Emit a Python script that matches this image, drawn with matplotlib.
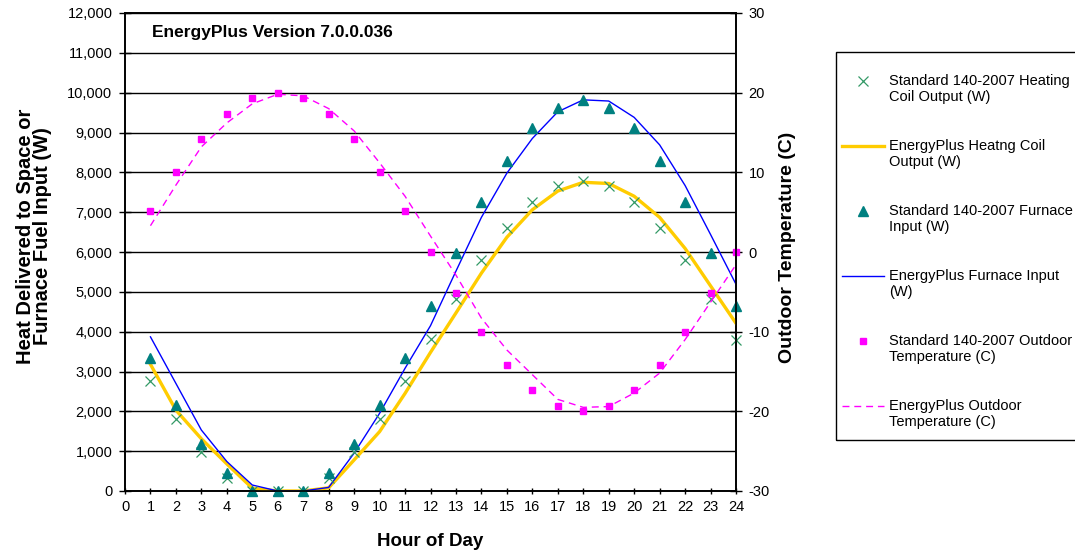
import numpy as np
import matplotlib
matplotlib.use('Agg')
import matplotlib.pyplot as plt
from matplotlib.lines import Line2D
from matplotlib.patches import Rectangle
from matplotlib.ticker import FuncFormatter

plt.rcParams['font.family'] = ['Liberation Sans', 'DejaVu Sans']
plt.rcParams['axes.unicode_minus'] = False

# hourly data
hours = list(range(1, 25))
std_coil = [2760, 1800, 970, 320, 0, 0, 0, 320, 970, 1800, 2760, 3810,
            4810, 5800, 6610, 7260, 7660, 7790, 7660, 7260, 6610, 5800, 4810, 3790]
ep_coil = [3180, 2030, 1310, 680, 70, 0, 0, 80, 780, 1490, 2450, 3480,
           4470, 5470, 6370, 7060, 7530, 7750, 7720, 7400, 6870, 6090, 5150, 4210]
std_furnace = [3350, 2160, 1180, 460, 0, 0, 0, 460, 1180, 2160, 3350, 4650,
               5980, 7250, 8290, 9110, 9620, 9820, 9620, 9110, 8290, 7250, 5980, 4650]
ep_furnace = [3870, 2700, 1530, 740, 150, 0, 0, 90, 950, 1950, 3080, 4150,
              5520, 6870, 7980, 8850, 9520, 9820, 9790, 9380, 8690, 7670, 6440, 5190]
std_temp = [5.18, 10, 14.14, 17.32, 19.32, 20, 19.32, 17.32, 14.14, 10, 5.18, 0,
            -5.18, -10, -14.14, -17.32, -19.32, -20, -19.32, -17.32, -14.14, -10, -5.18, 0]
ep_temp = [3.3, 8.4, 13.2, 16.2, 18.6, 19.8, 19.6, 18.0, 15.2, 11.2, 7.0, 2.0,
           -2.9, -8.3, -12.3, -15.4, -18.5, -19.5, -19.4, -17.7, -15.2, -11.0, -6.3, -1.6]

labels = ['Standard 140-2007 Heating\nCoil Output (W)',
          'EnergyPlus Heatng Coil\nOutput (W)',
          'Standard 140-2007 Furnace\nInput (W)',
          'EnergyPlus Furnace Input\n(W)',
          'Standard 140-2007 Outdoor\nTemperature (C)',
          'EnergyPlus Outdoor\nTemperature (C)']

W, H = 1075, 555
fig = plt.figure(figsize=(W / 100, H / 100), dpi=100)
ax = fig.add_axes([125 / W, 1 - 491 / H, (736 - 125) / W, (491 - 13) / H])
ax2 = ax.twinx()

GREEN = '#339966'
TEAL = '#008080'
YELLOW = '#FFCC00'
BLUE = '#0000FF'
MAGENTA = '#FF00FF'

# power series
ax.plot(hours, ep_coil, color=YELLOW, lw=2.4, zorder=3)
ax.plot(hours, ep_furnace, color=BLUE, lw=1.0, zorder=3)
ax.plot(hours, std_coil, ls='none', marker='x', ms=6.5, mew=0.9, color=GREEN,
        clip_on=False, zorder=4)
ax.plot(hours, std_furnace, ls='none', marker='^', ms=7, color=TEAL,
        clip_on=False, zorder=4)

# temperature series on the right axis
ax2.plot(hours, ep_temp, color=MAGENTA, lw=1.0, dashes=(5, 3.5))
ax2.plot(hours, std_temp, ls='none', marker='s', ms=4.2, color=MAGENTA, clip_on=False)

ax.set_xlim(0, 24)
ax.set_ylim(0, 12000)
ax.set_xticks(range(0, 25))
ax.set_yticks(range(0, 12001, 1000))
ax.yaxis.set_major_formatter(FuncFormatter(lambda v, p: f'{v:,.0f}'))
ax.yaxis.grid(True, color='black', lw=1.0)
ax.set_axisbelow(True)

ax2.set_ylim(-30, 30)
ax2.set_yticks(range(-30, 31, 10))

for a in (ax, ax2):
    for s in a.spines.values():
        s.set_color('black')
        s.set_linewidth(1.2)

ax.tick_params(axis='x', direction='inout', length=5, width=1, labelsize=10.5, pad=4)
ax.tick_params(axis='y', direction='inout', length=8, width=1, labelsize=10.5, pad=5)
ax2.tick_params(axis='y', direction='inout', length=8, width=1, labelsize=10.5, pad=5)

# titles and axis labels
fig.text(152 / W, 1 - 33 / H, 'EnergyPlus Version 7.0.0.036', fontsize=12.5,
         fontweight='bold', ha='left', va='center')
fig.text(34 / W, 1 - 236 / H, 'Heat Delivered to Space or\nFurnace Fuel Input (W)',
         rotation=90, ha='center', va='center', fontsize=14.5, fontweight='bold',
         linespacing=0.85)
fig.text(788 / W, 1 - 247 / H, 'Outdoor Temperature (C)', rotation=90,
         ha='center', va='center', fontsize=14, fontweight='bold')
fig.text(430 / W, 1 - 541 / H, 'Hour of Day', ha='center', va='center',
         fontsize=13.5, fontweight='bold')

# legend drawn by hand so the keys sit on the first text line
fig.patches.append(Rectangle((836 / W, 1 - 440 / H), 260 / W, 388 / H,
                             transform=fig.transFigure, fill=False,
                             edgecolor='black', lw=1.0))
styles = [dict(ls='none', marker='x', ms=6.5, mew=0.9, color=GREEN),
          dict(color=YELLOW, lw=2.4),
          dict(ls='none', marker='^', ms=7, color=TEAL),
          dict(color=BLUE, lw=1.0),
          dict(ls='none', marker='s', ms=4.2, color=MAGENTA),
          dict(color=MAGENTA, lw=1.0, dashes=(5, 3.5))]
for i, (lab, st) in enumerate(zip(labels, styles)):
    yk = 1 - (80.7 + 65 * i) / H
    if st.get('marker'):
        xs = [863 / W]
    else:
        xs = [842 / W, 884 / W]
    fig.lines.append(Line2D(xs, [yk] * len(xs), transform=fig.transFigure, **st))
    fig.text(889 / W, 1 - (88.7 + 65 * i) / H, lab, fontsize=10.5, ha='left',
             va='center', linespacing=1.15)

fig.savefig('out.png', dpi=100)
